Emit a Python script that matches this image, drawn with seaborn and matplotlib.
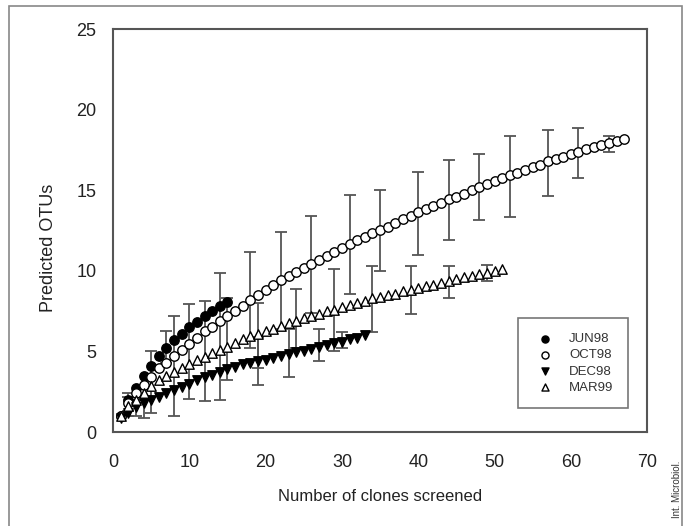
import numpy as np
import pandas as pd
import seaborn as sns
import matplotlib
matplotlib.use('Agg')
import matplotlib.pyplot as plt
from matplotlib.patches import Rectangle

# データ
jun_y = [1.0, 2.0, 2.75, 3.45, 4.1, 4.7, 5.2, 5.7, 6.1, 6.5, 6.85, 7.2, 7.5, 7.8, 8.1]
oct_y = [1.0, 1.8, 2.4, 2.95, 3.4, 3.95, 4.3, 4.7, 5.1, 5.45,
         5.85, 6.25, 6.55, 6.9, 7.2, 7.5, 7.8, 8.2, 8.5, 8.8,
         9.1, 9.45, 9.7, 9.95, 10.2, 10.45, 10.7, 10.95, 11.2, 11.45,
         11.7, 11.9, 12.1, 12.35, 12.55, 12.75, 12.95, 13.2, 13.4, 13.65,
         13.85, 14.05, 14.25, 14.45, 14.6, 14.8, 15.0, 15.2, 15.4, 15.6,
         15.75, 15.95, 16.1, 16.3, 16.45, 16.6, 16.8, 16.95, 17.1, 17.25,
         17.4, 17.55, 17.7, 17.8, 17.95, 18.1, 18.2]
dec_y = [0.85, 1.2, 1.55, 1.8, 2.0, 2.2, 2.45, 2.6, 2.8, 3.0,
         3.2, 3.4, 3.55, 3.75, 3.9, 4.05, 4.2, 4.3, 4.4, 4.5,
         4.6, 4.7, 4.85, 4.95, 5.05, 5.15, 5.3, 5.4, 5.5, 5.6,
         5.75, 5.85, 6.0]
mar_y = [1.0, 1.6, 2.0, 2.4, 2.85, 3.2, 3.5, 3.75, 4.0, 4.2,
         4.45, 4.65, 4.9, 5.1, 5.3, 5.5, 5.75, 5.95, 6.1, 6.25,
         6.4, 6.6, 6.75, 6.9, 7.05, 7.2, 7.35, 7.5, 7.6, 7.75,
         7.9, 8.0, 8.15, 8.3, 8.4, 8.5, 8.6, 8.75, 8.85, 8.95,
         9.05, 9.15, 9.25, 9.4, 9.5, 9.6, 9.7, 9.8, 9.9, 10.0, 10.1]

# エラーバー (x, 下端, 上端)
jun_err_x = [2, 5, 7, 8, 10, 12, 14]
jun_err_lo = [1.3, 1.15, 4.3, 1.0, 2.05, 1.95, 2.0]
jun_err_hi = [2.4, 5.05, 6.25, 7.2, 7.95, 8.15, 9.85]

oct_err_x = [2, 18, 22, 26, 31, 35, 40, 44, 48, 52, 57, 61, 65]
oct_err_lo = [1.0, 5.2, 6.4, 7.4, 8.6, 10.0, 11.0, 11.9, 13.15, 13.35, 14.65, 15.8, 17.4]
oct_err_hi = [2.2, 11.2, 12.4, 13.4, 14.7, 15.05, 16.15, 16.9, 17.25, 18.4, 18.75, 18.85, 18.4]

dec_err_x = [3, 4, 19, 23, 27, 30]
dec_err_lo = [1.0, 0.85, 2.9, 3.4, 4.4, 5.2]
dec_err_hi = [2.0, 2.2, 5.9, 6.4, 6.4, 6.2]

mar_err_x = [15, 19, 24, 29, 34, 39, 44, 49]
mar_err_lo = [3.25, 4.0, 5.2, 5.0, 6.2, 7.3, 8.3, 9.35]
mar_err_hi = [8.3, 8.0, 8.9, 10.1, 10.3, 10.3, 10.3, 10.4]

series = [
    ('JUN98', jun_y, jun_err_x, jun_err_lo, jun_err_hi, 'o', 'black'),
    ('OCT98', oct_y, oct_err_x, oct_err_lo, oct_err_hi, 'o', 'white'),
    ('DEC98', dec_y, dec_err_x, dec_err_lo, dec_err_hi, 'v', 'black'),
    ('MAR99', mar_y, mar_err_x, mar_err_lo, mar_err_hi, '^', 'white'),
]

sns.set_theme(style='white')
plt.rcParams['font.family'] = ['Liberation Sans', 'DejaVu Sans']

fig = plt.figure(figsize=(6.87, 5.26), dpi=100)
ax = fig.add_axes([0.1645, 0.1787, 0.7775, 0.7653])

for name, ys, ex, elo, ehi, mk, fc in series:
    df = pd.DataFrame({'x': np.arange(1, len(ys) + 1), 'y': ys})
    ey = df.set_index('x').loc[ex, 'y'].values
    ax.errorbar(ex, ey, yerr=[ey - np.array(elo), np.array(ehi) - ey],
                fmt='none', ecolor='#555555', elinewidth=1.3, capsize=4.5,
                capthick=1.3, zorder=2)
    sns.scatterplot(data=df, x='x', y='y', ax=ax, marker=mk, s=46,
                    facecolor=fc, edgecolor='black', linewidth=1.0,
                    label=name, zorder=3)

ax.set_xlim(0, 70)
ax.set_ylim(0, 25)
ax.set_xticks(range(0, 71, 10))
ax.set_yticks(range(0, 26, 5))
ax.tick_params(direction='in', length=5, width=1.2, color='#555555',
               labelsize=13, labelcolor='#222222')
ax.tick_params(axis='x', pad=16)
ax.tick_params(axis='y', pad=12)
for s in ax.spines.values():
    s.set_color('#555555')
    s.set_linewidth(1.5)

ax.set_xlabel('Number of clones screened', fontsize=12, color='#222222', labelpad=13)
ax.set_ylabel('Predicted OTUs', fontsize=13, color='#222222')
ax.yaxis.set_label_coords(-0.105, 0.458)

leg = ax.legend(loc='lower right', bbox_to_anchor=(0.964, 0.059), fontsize=9.5,
                frameon=True, fancybox=False, markerscale=0.75,
                handletextpad=0.8, borderpad=1.1, labelspacing=0.3,
                borderaxespad=0)
leg.get_frame().set_edgecolor('#555555')
leg.get_frame().set_linewidth(1.2)
for t in leg.get_texts():
    t.set_color('#333333')

# 外枠
fig.patches.append(Rectangle((0.013, -0.02), 0.98, 1.0086, transform=fig.transFigure,
                             fill=False, edgecolor='#888888', linewidth=1.2))
fig.text(0.986, 0.07, 'Int. Microbiol.', rotation=90, fontsize=7,
         ha='center', va='center', color='#333333')

fig.savefig('out.png', dpi=100)
